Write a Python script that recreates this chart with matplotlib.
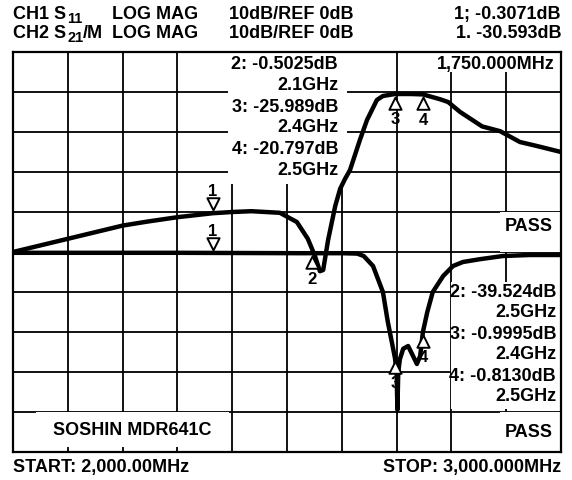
import matplotlib
matplotlib.use("Agg")
import matplotlib.pyplot as plt
from matplotlib.patches import Rectangle
from matplotlib.path import Path
import numpy as np

plt.rcParams['font.family'] = ['Liberation Sans', 'DejaVu Sans']
plt.rcParams['font.weight'] = 'bold'

# CH2 S21 trace (upper one), MHz / dB, ref 0dB on the first line from the top
s21_freq = [2000, 2100, 2200, 2245, 2300, 2365, 2400, 2435, 2487, 2518, 2538, 2551,
            2560, 2566, 2575, 2588, 2597, 2606, 2615, 2633, 2646, 2664, 2675, 2697,
            2725, 2748, 2779, 2794, 2816, 2856, 2889, 2925, 2956, 3000]
s21_db = [-40, -36.7, -33.4, -32.4, -31.3, -30.3, -30.0, -29.8, -30.2, -32.5, -36.7, -41,
          -44.8, -44.5, -37, -28.5, -24.2, -21.7, -19.5, -12, -7, -2, -1.0, -0.5,
          -0.5, -0.6, -1.8, -2.5, -5, -8.6, -9.8, -12.5, -13.5, -15]

# CH1 S11 trace (lower one), ref 0dB on the centre line
s11_freq = [2000, 2300, 2520, 2600, 2628, 2640, 2657, 2675, 2684, 2692, 2697, 2700,
            2701.5, 2703, 2706, 2712, 2721, 2730, 2737, 2743, 2748, 2756, 2766, 2785,
            2803, 2821, 2852, 2894, 2943, 3000]
s11_db = [-0.2, -0.2, -0.3, -0.3, -0.4, -1.0, -3.5, -10, -17.5, -23, -26.5, -30,
          -39.5, -30, -26.8, -24.2, -23.5, -26, -28, -26, -20, -15, -10, -6,
          -3.5, -2.5, -1.8, -1, -0.75, -0.75]

# marker frequencies (MHz)
s21_markers = {"1": 2365, "3": 2697, "4": 2748}
s11_markers = {"1": 2365, "2": 2546, "3": 2697, "4": 2748}

header_rows = [("CH1 S", "11", "", "1; -0.3071dB"),
               ("CH2 S", "21", "/M", "1. -30.593dB")]
upper_readout = ["2: -0.5025dB", "2.1GHz", "3: -25.989dB", "2.4GHz", "4: -20.797dB", "2.5GHz"]
lower_readout = ["2: -39.524dB", "2.5GHz", "3: -0.9995dB", "2.4GHz", "4: -0.8130dB", "2.5GHz"]

W, H = 572, 481
L, R, T, B = 13, 561, 53, 453
FS = 13

fig = plt.figure(figsize=(W / 100, H / 100), dpi=100)
ax = fig.add_axes([L / W, 1 - B / H, (R - L) / W, (B - T) / H])
ax.set_xlim(2000, 3000)
ax.set_ylim(-90, 10)
ax.set_xticks(np.arange(2000, 3001, 100))
ax.set_yticks(np.arange(-90, 11, 10))
ax.tick_params(length=0, labelbottom=False, labelleft=False)
ax.grid(True, color='black', lw=1.3)
ax.set_axisbelow(True)
for s in ax.spines.values():
    s.set_linewidth(1.6)

ax2 = ax.twinx()
ax2.set_ylim(-50, 50)
ax2.tick_params(length=0, labelright=False)
for s in ax2.spines.values():
    s.set_visible(False)


def fx(px):
    return (px - L) / (R - L)


def fy(py):
    return (B - py) / (B - T)


# white boxes that cut the grid
for x0, y0, x1, y1 in [(228, 53, 347, 185), (432, 53, 561, 73), (500, 213, 561, 253),
                       (451, 283, 561, 410), (500, 413, 561, 453), (36, 413, 229, 448)]:
    ax.add_patch(Rectangle((fx(x0), fy(y1)), fx(x1) - fx(x0), fy(y0) - fy(y1),
                           transform=ax.transAxes, facecolor='white', edgecolor='none', zorder=1))

ax.plot(s21_freq, s21_db, color='black', lw=3.2, zorder=2, solid_joinstyle='round')
ax2.plot(s11_freq, s11_db, color='black', lw=3.2, zorder=2, solid_joinstyle='round')

# triangles with the tip a little off the trace
down_tri = Path([(0, 0.25), (-0.5, 1.25), (0.5, 1.25), (0, 0.25)], [1, 2, 2, 79])
up_tri = Path([(0, -0.25), (-0.5, -1.25), (0.5, -1.25), (0, -0.25)], [1, 2, 2, 79])


def put_marker(axis, freq_list, db_list, name, f, gap):
    yv = np.interp(f, freq_list, db_list)
    up = name != "1"
    axis.plot([f], [yv], marker=up_tri if up else down_tri, ms=22, mfc='white',
              mec='black', mew=1.4, ls='none', zorder=4)
    axis.annotate(name, (f, yv), xytext=(0, -gap if up else gap), textcoords='offset points',
                  ha='center', va='center', fontsize=12, zorder=4)


for name, f in s21_markers.items():
    put_marker(ax, s21_freq, s21_db, name, f, 18 if name != "1" else 16)
for name, f in s11_markers.items():
    put_marker(ax2, s11_freq, s11_db, name, f, 18 if name != "1" else 16)

for i, t in enumerate(upper_readout):
    ax.text(fx(338), fy([65, 86, 108, 128, 150, 171][i]), t, transform=ax.transAxes,
            ha='right', va='center', fontsize=FS, zorder=3)
for i, t in enumerate(lower_readout):
    ax.text(fx(556), fy([293, 313, 335, 355, 377, 397][i]), t, transform=ax.transAxes,
            ha='right', va='center', fontsize=FS, zorder=3)
ax.text(fx(555), fy(65), "1,750.000MHz", transform=ax.transAxes, ha='right', va='center', fontsize=FS, zorder=3)
ax.text(fx(553), fy(227), "PASS", transform=ax.transAxes, ha='right', va='center', fontsize=FS, zorder=3)
ax.text(fx(553), fy(433), "PASS", transform=ax.transAxes, ha='right', va='center', fontsize=FS, zorder=3)
ax.text(fx(132), fy(431), "SOSHIN MDR641C", transform=ax.transAxes, ha='center', va='center', fontsize=FS, zorder=3)

# header: channel name with a lowered subscript
renderer = fig.canvas.get_renderer()
for i, (ch, sub, tail, mk) in enumerate(header_rows):
    yb = 19 + 19 * i
    t = fig.text(L / W, 1 - yb / H, ch, ha='left', va='baseline', fontsize=FS)
    x1 = t.get_window_extent(renderer).x1
    sb = fig.text((x1 + 1) / W, 1 - (yb + 4) / H, sub, ha='left', va='baseline', fontsize=10.5)
    if tail:
        x2 = sb.get_window_extent(renderer).x1
        fig.text(x2 / W, 1 - yb / H, tail, ha='left', va='baseline', fontsize=FS)
    fig.text(112 / W, 1 - yb / H, "LOG MAG", ha='left', va='baseline', fontsize=FS)
    fig.text(229 / W, 1 - yb / H, "10dB/REF 0dB", ha='left', va='baseline', fontsize=FS)
    fig.text(R / W, 1 - yb / H, mk, ha='right', va='baseline', fontsize=FS)

fig.text(L / W, 1 - 468 / H, "START: 2,000.00MHz", ha='left', va='center', fontsize=FS)
fig.text(R / W, 1 - 468 / H, "STOP: 3,000.000MHz", ha='right', va='center', fontsize=FS)

fig.savefig("out.png", dpi=100)
